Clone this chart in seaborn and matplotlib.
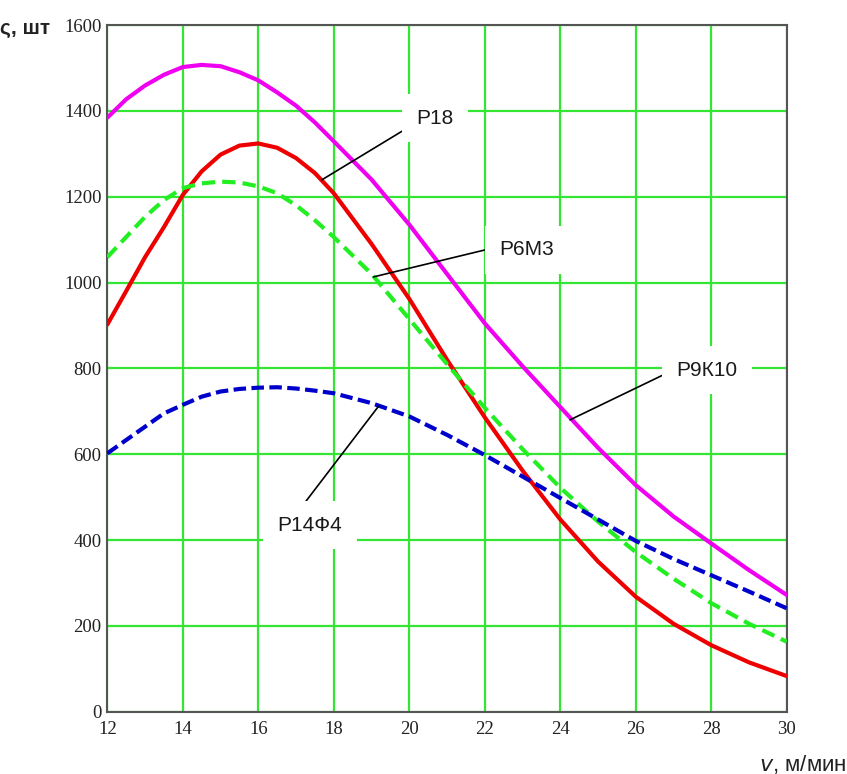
import numpy as np
import pandas as pd
import matplotlib
matplotlib.use("Agg")
import matplotlib.pyplot as plt
import seaborn as sns

# ---- data ----
speed = [12, 12.5, 13, 13.5, 14, 14.5, 15, 15.5, 16, 16.5, 17, 17.5, 18,
         19, 20, 21, 22, 23, 24, 25, 26, 27, 28, 29, 30]
p9k10 = [1384, 1427, 1459, 1484, 1502, 1507, 1504, 1490, 1471, 1443, 1412, 1373, 1329,
         1240, 1135, 1020, 905, 805, 710, 615, 528, 455, 392, 330, 272]
p18 = [902, 980, 1059, 1129, 1204, 1259, 1298, 1319, 1324, 1314, 1290, 1255, 1208,
       1090, 962, 820, 686, 562, 448, 350, 268, 205, 155, 115, 83]
p6m3 = [1059, 1106, 1153, 1192, 1220, 1231, 1235, 1233, 1224, 1208, 1180, 1145, 1106,
        1020, 915, 810, 708, 612, 522, 443, 372, 310, 253, 205, 163]
p14f4 = [602, 633, 664, 695, 715, 734, 746, 752, 755, 756, 753, 748, 742,
         719, 688, 645, 598, 548, 498, 448, 398, 356, 318, 280, 241]

series_names = ["Р9К10", "Р18", "Р6М3", "Р14Ф4"]
series_vals = [p9k10, p18, p6m3, p14f4]
colors = {"Р9К10": "#f000f0", "Р18": "#ee0000", "Р6М3": "#22ee22", "Р14Ф4": "#0000cc"}
dashes = {"Р9К10": "", "Р18": "", "Р6М3": (3.2, 1.7), "Р14Ф4": (3.0, 1.3)}

xticks = [12, 14, 16, 18, 20, 22, 24, 26, 28, 30]
yticks = [0, 200, 400, 600, 800, 1000, 1200, 1400, 1600]

# label positions (text, leader start, leader end) in data coords
labels = {
    "Р18":   ((20.68, 1383), (19.93, 1359), (17.68, 1239)),
    "Р6М3":  ((23.12, 1076), (22.01, 1076), (19.05, 1013)),
    "Р9К10": ((27.89, 796), (26.83, 789), (24.26, 680)),
    "Р14Ф4": ((17.37, 435), (17.19, 482), (19.18, 711)),
}

df = pd.concat([
    pd.DataFrame({"v": speed, "K": vals, "steel": name})
    for name, vals in zip(series_names, series_vals)
], ignore_index=True)

sns.set_style("white")
plt.rcParams["font.family"] = ["Liberation Sans", "DejaVu Sans"]

W, H = 847, 774
fig = plt.figure(figsize=(W / 100, H / 100), dpi=100)
ax = fig.add_axes([107.3 / W, (H - 711.7) / H, 679.4 / W, 686.7 / H])

sns.lineplot(data=df, x="v", y="K", hue="steel", style="steel",
             palette=colors, dashes=dashes, linewidth=3.0,
             legend=False, ax=ax, zorder=3)
for ln in ax.get_lines():
    ln.set_solid_joinstyle("round")
    ln.set_dash_joinstyle("round")

ax.set_xlim(12, 30)
ax.set_ylim(0, 1600)
ax.set_xticks(xticks)
ax.set_yticks(yticks)
ax.set_xticklabels([str(t) for t in xticks], family="Liberation Serif", fontsize=13.5, color="#222222")
ax.set_yticklabels([str(t) for t in yticks], family="Liberation Serif", fontsize=13.5, color="#222222")
ax.tick_params(axis="both", length=0)
ax.tick_params(axis="x", pad=7)
ax.tick_params(axis="y", pad=4)
ax.grid(True, color="#33e633", linewidth=1.6, zorder=1)
ax.set_axisbelow(True)
ax.set_xlabel("")
ax.set_ylabel("")
for s in ax.spines.values():
    s.set_visible(True)
    s.set_color("#555555")
    s.set_linewidth(1.5)

for name, (tpos, lstart, lend) in labels.items():
    ax.plot([lstart[0], lend[0]], [lstart[1], lend[1]], color="black", linewidth=1.2, zorder=4)
    ax.text(tpos[0], tpos[1], name, fontsize=15, ha="center", va="center", color="#1a1a1a",
            zorder=5, bbox=dict(boxstyle="square,pad=0.7", facecolor="white", edgecolor="none"))

fig.text(0.0 / W, 1 - 28 / H, "ς, шт", fontsize=15, fontweight="bold", ha="left", va="center", color="#222222")
fig.text(1 - 1 / W, 1 - 764 / H, "$v$, м/мин", fontsize=16, ha="right", va="center", color="#222222")

fig.savefig("out.png", dpi=100)
